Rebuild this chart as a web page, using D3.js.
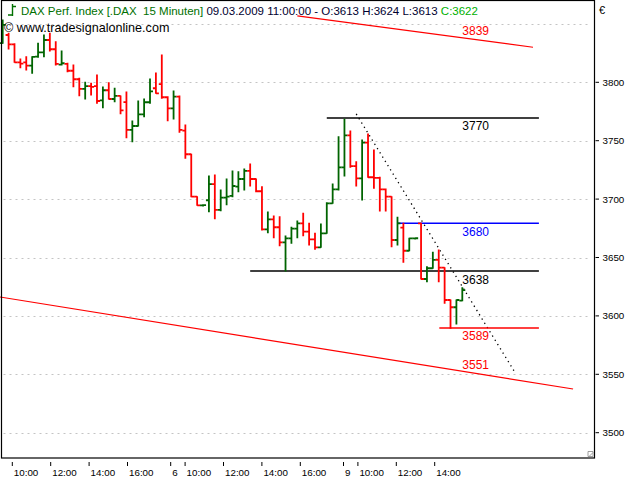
<!DOCTYPE html>
<html>
<head>
<meta charset="utf-8">
<script src="https://cdn.jsdelivr.net/npm/d3@7"></script>
<style>
html,body{margin:0;padding:0;background:#fff;}
svg{display:block;font-family:"Liberation Sans",Arial,sans-serif;}
</style>
</head>
<body>
<svg id="chart" width="640" height="480"></svg>
<script>
// ---- data (15-min OHLC bars) ----
const opens  = [3833.6,3840.5,3832.5,3817.0,3817.1,3814.2,3821.9,3825.7,3836.2,3828.3,3815.2,3815.7,3809.9,3802.6,3794.3,3796.8,3796.8,3784.6,3793.2,3785.7,3788.3,3783.1,3759.2,3762.6,3772.6,3782.9,3794.9,3798.5,3787.2,3777.7,3787.7,3758.6,3738.4,3702.1,3694.7,3699.0,3712.9,3690.7,3701.2,3702.7,3710.6,3717.2,3724.1,3717.2,3706.7,3674.1,3682.7,3675.9,3663.0,3666.4,3674.7,3679.3,3672.1,3665.6,3658.7,3670.7,3696.4,3708.4,3727.2,3754.6,3728.3,3717.8,3748.3,3718.7,3718.1,3708.4,3702.1,3665.0,3675.5,3655.8,3666.4,3679.3,3631.6,3640.8,3647.9,3641.3,3613.6,3607.4,3613];
const highs  = [3853.3,3842.0,3833.0,3820.0,3821.9,3821.9,3833.4,3840.5,3842.0,3834.8,3826.8,3816.3,3814.8,3803.4,3800.0,3799.1,3806.3,3796.0,3799.7,3794.9,3788.3,3791.7,3766.9,3784.0,3785.7,3802.8,3808.0,3823.4,3787.7,3792.6,3788.3,3763.4,3738.4,3702.1,3695.2,3719.8,3720.6,3707.8,3717.2,3724.1,3723.5,3725.8,3730.0,3717.2,3710.6,3689.0,3685.5,3684.9,3668.4,3675.9,3681.3,3687.8,3679.3,3670.7,3678.7,3696.9,3712.9,3753.4,3768.3,3758.3,3732.0,3750.6,3755.7,3742.0,3718.7,3708.6,3702.1,3684.4,3679.3,3666.4,3666.7,3679.3,3642.1,3654.5,3656.4,3641.3,3613.6,3613.6,3624];
const lows   = [3833.4,3828.5,3817.1,3812.5,3810.5,3807.7,3821.5,3821.9,3826.8,3814.8,3814.8,3809.1,3796.2,3788.5,3785.7,3789.1,3782.0,3778.3,3785.7,3783.4,3773.1,3752.6,3749.1,3762.6,3770.5,3782.0,3790.6,3786.3,3767.1,3768.6,3757.2,3734.9,3702.1,3694.7,3694.1,3689.2,3683.2,3690.1,3695.2,3702.1,3706.3,3707.8,3711.2,3706.3,3673.5,3671.2,3667.0,3660.1,3638.4,3662.2,3667.0,3668.7,3660.7,3657.0,3658.7,3670.7,3696.4,3707.8,3719.8,3727.2,3711.2,3699.2,3718.7,3709.2,3689.8,3689.8,3659.2,3660.7,3645.9,3655.8,3665.8,3631.6,3629.3,3640.8,3629.3,3610.8,3589.4,3593.1,3613];
const closes = [3849.1,3832.5,3817.1,3816.0,3814.2,3821.7,3825.7,3836.2,3828.3,3815.7,3816.3,3809.9,3802.6,3794.3,3796.8,3796.0,3784.0,3793.2,3785.7,3788.3,3776.0,3759.2,3762.6,3772.6,3782.9,3792.3,3790.6,3787.2,3777.7,3787.7,3759.2,3738.4,3702.1,3694.7,3694.9,3712.9,3690.7,3701.2,3702.1,3711.2,3717.2,3724.1,3717.2,3706.7,3674.1,3682.7,3675.9,3663.0,3666.4,3674.7,3679.3,3672.1,3665.6,3658.7,3670.7,3696.4,3708.4,3727.2,3754.6,3728.3,3717.8,3748.3,3718.7,3718.1,3708.4,3702.1,3665.0,3679.3,3655.8,3666.4,3666.5,3631.6,3640.8,3647.9,3641.3,3613.6,3607.4,3613.6,3622];

const yTicks = [3500,3550,3600,3650,3700,3750,3800];
const yGrid  = [3500,3550,3600,3650,3700,3750,3800,3850];

// x-axis: session-hour positions (9 visible hours per day) and their labels
const timeTicks  = [1,3,5,7,9.25,10,12,14,16,18.25,19,21,23];
const timeLabels = ["10:00","12:00","14:00","16:00","6","10:00","12:00","14:00","16:00","9","10:00","12:00","14:00"];

// horizontal level lines: value, start bar, end bar, label, colour
const levelValues = [3769.5,3679.3,3638.4,3589.7];
const levelStart  = [55,67,42,74.1];
const levelEnd    = [91,91,91,91];
const levelLabels = ["3770","3680","3638","3589"];
const levelColors = ["#000000","#0000ff","#000000","#ff0000"];

// sloped trend lines: [bar, price] endpoints
const trendUpper  = [[50,3856.8],[90,3830.0]];
const trendLower  = [[-0.46,3616.2],[96.8,3537.4]];
const trendLabels = ["3839","3551"];
const trendLabelValues = [3838.0,3552.6];
const dottedLine  = [[60,3772.9],[87,3551.1]];

const headerName = "DAX Perf. Index [.DAX  15 Minuten]";
const headerInfo = "09.03.2009 11:00:00 - O:3613 H:3624 L:3613";
const headerClose = "C:3622";
const credit = "\u00a9 www.tradesignalonline.com";

// ---- layout ----
const svg = d3.select("#chart");
const plotL = 1.5, plotR = 594.5, plotT = 0.5, plotB = 458;
const bars = opens.map((o,i)=>({i, o, h:highs[i], l:lows[i], c:closes[i]}));

const x = d3.scaleLinear().domain([0, bars.length-1]).range([2.7, 462.3]);
const y = d3.scaleLinear().domain([3500, 3800]).range([432.7, 82.3]);
const t = d3.scaleLinear().domain([1, 23]).range([12.3, 434.7]);

svg.append("rect").attr("width",640).attr("height",480).attr("fill","#fff");

// gridlines
svg.append("g").selectAll("line").data(yGrid).join("line")
  .attr("x1", plotL+2).attr("x2", plotR-4)
  .attr("y1", d=>Math.round(y(d))+0.5).attr("y2", d=>Math.round(y(d))+0.5)
  .attr("stroke","#c4c4c4").attr("stroke-width",1).attr("stroke-dasharray","2,4");

// clip
svg.append("clipPath").attr("id","plotclip").append("rect")
  .attr("x",0).attr("y",plotT).attr("width",plotR).attr("height",plotB-plotT);

const g = svg.append("g").attr("clip-path","url(#plotclip)");

// trend lines
const lineGen = d3.line().x(d=>x(d[0])).y(d=>y(d[1]));
g.append("path").attr("d", lineGen(trendUpper)).attr("stroke","#ff0000").attr("stroke-width",1.2).attr("fill","none");
g.append("path").attr("d", lineGen(trendLower)).attr("stroke","#ff0000").attr("stroke-width",1.2).attr("fill","none");
g.append("path").attr("d", lineGen(dottedLine)).attr("stroke","#000").attr("stroke-width",1.3)
  .attr("stroke-dasharray","1.3,3.7").attr("fill","none");

// level lines
g.append("g").selectAll("line").data(levelValues).join("line")
  .attr("x1",(d,i)=>x(levelStart[i])).attr("x2",(d,i)=>x(levelEnd[i]))
  .attr("y1",d=>y(d)).attr("y2",d=>y(d))
  .attr("stroke",(d,i)=>levelColors[i]).attr("stroke-width",1.5);

// OHLC bars
const tk = 3;
g.append("g").selectAll("path").data(bars).join("path")
  .attr("d", d=>{
    const cx = x(d.i);
    return `M${cx},${y(d.h)-0.5}V${y(d.l)+0.5}M${cx-tk},${y(d.o)}H${cx}M${cx},${y(d.c)}H${cx+tk}`;
  })
  .attr("stroke", d=> d.c >= d.o ? "#006400" : "#ff0000")
  .attr("stroke-width",1.8).attr("fill","none");

// level labels
svg.append("g").selectAll("text").data(levelValues).join("text")
  .attr("x", x(bars.length-1)).attr("y", d=>y(d)+12.5)
  .attr("fill",(d,i)=>levelColors[i]).attr("font-size",12)
  .text((d,i)=>levelLabels[i]);

svg.append("g").selectAll("text").data(trendLabelValues).join("text")
  .attr("x", x(bars.length-1)).attr("y", d=>y(d)-2.5)
  .attr("fill","#ff0000").attr("font-size",12)
  .text((d,i)=>trendLabels[i]);

// frame
svg.append("rect").attr("x",plotL).attr("y",plotT).attr("width",plotR-plotL).attr("height",plotB-plotT)
  .attr("fill","none").attr("stroke","#000").attr("stroke-width",1.2);
// resize corner
svg.append("path").attr("d",`M${plotR-6.5},${plotB-6.5}h5v5h-5zM${plotR-5.5},${plotB-1.5}L${plotR-1.5},${plotB-5.5}`)
  .attr("fill","none").attr("stroke","#888").attr("stroke-width",0.8);

// y axis (right)
const ya = svg.append("g");
ya.selectAll("line").data(yTicks).join("line")
  .attr("x1",plotR+1).attr("x2",plotR+4.5).attr("y1",d=>y(d)).attr("y2",d=>y(d))
  .attr("stroke","#000").attr("stroke-width",1);
ya.selectAll("text").data(yTicks).join("text")
  .attr("x",plotR+8).attr("y",d=>y(d)).attr("dy","0.35em")
  .attr("font-size",9.8).attr("fill","#000").text(d=>d);
svg.append("text").attr("x",599).attr("y",14).attr("font-size",11).text("\u20ac");

// x axis
const xa = svg.append("g");
xa.selectAll("line").data(timeTicks).join("line")
  .attr("x1",d=>t(d)).attr("x2",d=>t(d)).attr("y1",462).attr("y2",466)
  .attr("stroke","#000").attr("stroke-width",1);
xa.selectAll("text").data(timeTicks).join("text")
  .attr("x",d=>t(d)+1.5).attr("y",476)
  .attr("font-size",9.8).attr("fill","#000").text((d,i)=>timeLabels[i]);

// header icon
svg.append("path").attr("d","M12.5,4V16M8,15H12.5M12.5,6.5H16")
  .attr("stroke","#007000").attr("stroke-width",1.4).attr("fill","none");

// header
const hdr = svg.append("text").attr("x",21).attr("y",15).attr("font-size",11.5).style("white-space","pre");
hdr.append("tspan").attr("fill","#007000").text(headerName + " ");
hdr.append("tspan").attr("fill","#000030").text(headerInfo + " ");
hdr.append("tspan").attr("fill","#00b000").text(headerClose);

svg.append("text").attr("x",4).attr("y",32).attr("font-size",12.6).attr("fill","#000").text(credit);
</script>
</body>
</html>
